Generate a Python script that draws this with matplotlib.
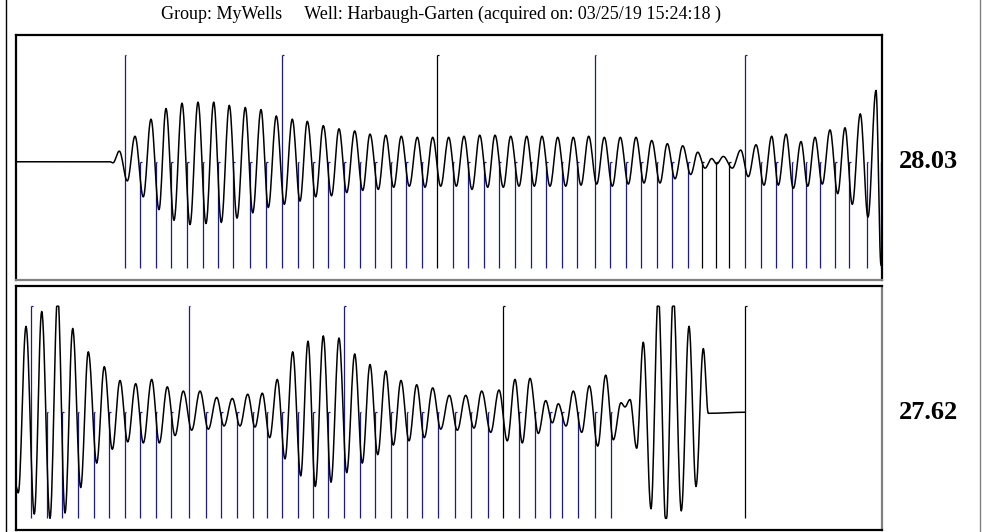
import numpy as np
import matplotlib
matplotlib.use("Agg")
import matplotlib.pyplot as plt
from matplotlib.lines import Line2D

# header and the two readings shown right of the traces
title = "Group: MyWells     Well: Harbaugh-Garten (acquired on: 03/25/19 15:24:18 )"
top_value = "28.03"
bottom_value = "27.62"

# upper trace: turning points (position, amplitude in % of full scale)
top_pos = [16, 110, 113, 119.3, 127.3, 135, 143.3, 151, 159, 166, 174, 182, 190, 198, 206,
           213.7, 221.3, 229.3, 237, 245.3, 252.7, 261, 268.3, 276.3, 284.3, 292.3, 300,
           307.3, 315.7, 323.3, 331.5, 339, 346.7, 354.7, 362.7, 370, 378.3, 385.7, 393.7,
           401.3, 409.3, 417.3, 425, 432.7, 440.7, 448.7, 456.3, 464, 472, 479.7, 487.7,
           495, 503.3, 510.7, 519, 526.7, 534.3, 542, 550, 557.7, 565.7, 573.3, 581, 588.7,
           596.7, 604.3, 612.3, 620.3, 628.3, 636, 644, 651.7, 660, 667.3, 675, 682.7,
           690.7, 697.7, 705, 711.7, 716.7, 723.3, 732.3, 740.7, 748.3, 756, 764, 771.7,
           778.3, 786, 793.3, 801, 807.7, 815, 822.3, 830, 837.7, 845, 852.3, 860.3, 868,
           876, 881]
top_amp = [0, 0, -1, 10, -18, 24, -33, 40, -45, 50, -55, 55, -59, 56, -58,
           56, -57, 53, -53, 51, -48, 49, -43, 43, -40, 40, -37,
           38, -33, 34, -32, 31, -29, 29, -27, 26, -26, 25, -24,
           24, -23, 23, -24, 23, -23, 23, -23, 24, -26, 25, -24,
           25, -24, 24, -23, 24, -23, 24, -23, 23, -23, 23, -22, 24,
           -21, 23, -23, 23, -21, 23, -20, 20, -20, 17, -16, 15,
           -12, 9, -6, 3, -2, 5, -6, 11, -14, 16, -22, 24,
           -22, 26, -25, 19, -23, 23, -21, 30, -30, 32, -40, 45, -52,
           67, -97]

# upper trace: marker positions, which ones run full height, which are black
top_marks = [124.7, 140, 155.7, 171.3, 187, 202.7, 218.3, 233.3, 250.3, 266.3, 282, 297.7,
             313.3, 328.3, 344, 359.7, 375, 390.7, 406.3, 421.7, 437.3, 452.7, 468.3, 484,
             499.3, 515, 530.7, 546, 561.7, 577.3, 594.7, 610.3, 626, 641.3, 656.7, 672.3,
             688, 702, 716, 729.3, 745.3, 760.7, 776, 791.7, 805.7, 819.7, 835, 849.3,
             866.7, 880.7]
top_tall = [124.7, 282, 437.3, 594.7, 745.3]
top_black = [437.3, 702, 716, 729.3]

# lower trace: turning points
bot_pos = [16, 18.3, 26, 34.3, 41.7, 50, 57.7, 65, 72.7, 80.7, 88.3, 96.7, 104.3, 112.3, 120,
           127.7, 135.7, 143.3, 151.7, 159.3, 167.3, 175, 183.3, 191.7, 200, 208.3, 216.7,
           224, 232.3, 240, 247.7, 255, 262.3, 269.7, 277.3, 285, 292.7, 300.7, 308, 315.3,
           323.3, 331, 339, 346.7, 354.7, 362.3, 370, 377.7, 385.7, 393.3, 401, 409, 416.7,
           424.3, 432.7, 440.7, 449.3, 457.3, 465.7, 474, 481.7, 490.7, 499, 507.3, 515,
           522.3, 530, 538.3, 545.7, 552.3, 558.3, 566, 573.3, 581.7, 589.3, 597.7, 605.7,
           613.3, 621, 625, 630, 636.7, 643.3, 651, 658.3, 666, 673.3, 681.3, 689, 696,
           703.3, 708.3, 745.3]
bot_amp = [-70, -76, 81, -96, 95, -100, 110, -95, 79, -71, 57, -48, 43, -35, 30,
           -28, 27, -29, 31, -29, 24, -22, 20, -17, 20, -16, 14,
           -13, 13, -13, 17, -14, 18, -24, 31, -44, 57, -60, 67, -70,
           72, -66, 70, -57, 55, -48, 45, -40, 39, -31, 30, -27, 26,
           -24, 23, -16, 16, -17, 16, -15, 20, -19, 21, -27, 31,
           -29, 32, -20, 11, -10, 8, -13, 20, -19, 25, -32, 35,
           -26, 9, 5, 12, -34, 66, -91, 110, -108, 110, -93, 81, -70,
           60, -1, 0]

bot_marks = [31.3, 46.7, 62.3, 77.7, 93.7, 109, 124.7, 140.3, 155.7, 171.3, 188.7, 206.3,
             221.3, 237, 252.7, 266.7, 282.3, 297.7, 313.3, 328.3, 344, 359.7, 375.3, 391,
             406.7, 422.3, 437.7, 455, 470.7, 487.7, 503.3, 519, 534.7, 550, 562, 577.7,
             595, 610.7, 745.3]
bot_tall = [31.3, 188.7, 344, 503.3, 745.3]
bot_black = [503.3, 745.3]

BLUE = "#1a1a96"


def trace(pos, amp, n=14):
    # smooth half-cosine swing between turning points, clipped like the recorder
    xs, ys = [pos[0]], [amp[0]]
    s = np.linspace(0, 1, n + 1)[1:]
    w = (1 - np.cos(np.pi * s)) / 2
    for i in range(len(pos) - 1):
        xs.extend(pos[i] + (pos[i + 1] - pos[i]) * s)
        ys.extend(amp[i] + (amp[i + 1] - amp[i]) * w)
    return np.array(xs), np.clip(ys, -100, 100)


def draw_panel(ax, pos, amp, marks, tall, black, value):
    for m in marks:
        top = 100 if m in tall else 0
        col = "black" if m in black else BLUE
        ax.vlines(m, -100, top, color=col, lw=0.9)
        ax.hlines(top, m, m + 1.5, color=col, lw=0.9)
    x, y = trace(pos, amp)
    ax.plot(x, y, color="black", lw=1.1)
    ax.set_xlim(16, 882)
    ax.set_ylim(-111, 119)
    ax.set_xticks([])
    ax.set_yticks([])
    ax.text(1.054, (0 + 111) / 230, value, transform=ax.transAxes, ha="center", va="center",
            fontsize=19, fontweight="bold", family="Liberation Serif")


fig = plt.figure(figsize=(9.84, 5.32), dpi=100)
ax1 = fig.add_axes([16 / 984, 252 / 532, 866 / 984, 245 / 532])
ax2 = fig.add_axes([16 / 984, 2 / 532, 866 / 984, 244 / 532])

draw_panel(ax1, top_pos, top_amp, top_marks, top_tall, top_black, top_value)
draw_panel(ax2, bot_pos, bot_amp, bot_marks, bot_tall, bot_black, bottom_value)

for sp in ax1.spines.values():
    sp.set_linewidth(1.6)
ax1.spines["bottom"].set_color("#808080")
for sp in ax2.spines.values():
    sp.set_linewidth(1.6)
ax2.spines["right"].set_color("#808080")

# outer frame lines
fig.add_artist(Line2D([5.5 / 984, 5.5 / 984], [0, 1], color="black", lw=1))
fig.add_artist(Line2D([979.5 / 984, 979.5 / 984], [0, 1], color="#808080", lw=1))

fig.text(441 / 984, 1 - 14 / 532, title, ha="center", va="center",
         fontsize=13, family="Liberation Serif")

fig.savefig("out.png", dpi=100)
